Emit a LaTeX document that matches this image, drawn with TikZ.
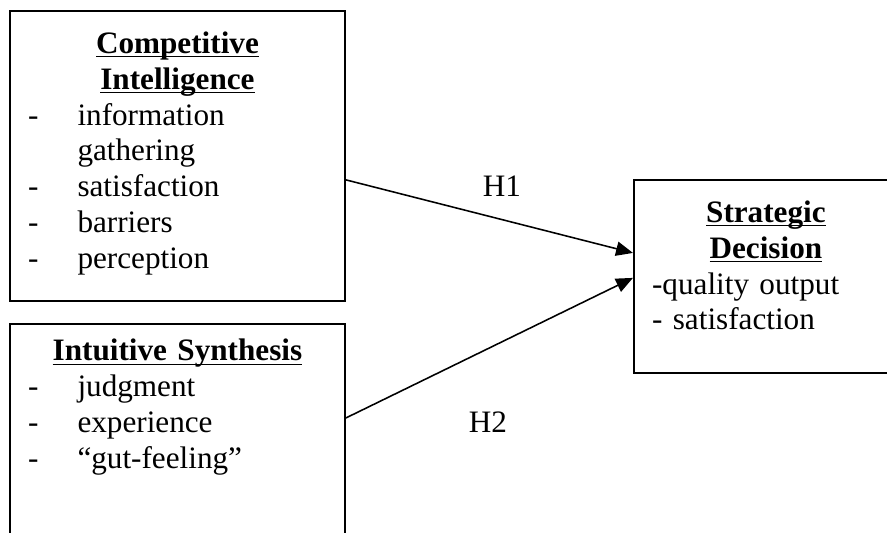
\documentclass[tikz,border=0pt]{standalone}
\usepackage{fontspec}
\setmainfont{Liberation Serif}
\usepackage{tikz}
\usetikzlibrary{arrows.meta}
\newcommand{\vhead}[1]{\textbf{\underbar{#1}}}

\begin{document}
\begin{tikzpicture}[
  varbox/.style={draw, line width=0.7pt, anchor=north west, inner xsep=7pt, inner ysep=8pt,
    font=\fontsize{12}{13.8}\selectfont},
  hyp/.style={line width=0.6pt, -{Triangle[length=6.5pt,width=5.5pt]}},
  hlabel/.style={font=\fontsize{12}{13.8}\selectfont}
]
  \useasboundingbox (0,0) rectangle (11.994,7.207);
  \clip (0,0) rectangle (11.994,7.207);
  % the three boxes
  \node[varbox, text width=114.9pt, text depth=87.3pt] (ci) at (0.122,7.072) {%
    {\centering\vhead{Competitive}\\\vhead{Intelligence}\par}
    \begin{tabular}[t]{@{}p{19pt}@{}l@{}}
      - & information\\
        & gathering\\
      - & satisfaction\\
      - & barriers\\
      - & perception
    \end{tabular}};
  \node[varbox, inner ysep=5.8pt, text width=114.9pt, text depth=71.3pt] (is) at (0.122,2.840) {%
    {\centering\vhead{Intuitive Synthesis}\par}
    \begin{tabular}[t]{@{}p{19pt}@{}l@{}}
      - & judgment\\
      - & experience\\
      - & “gut-feeling”
    \end{tabular}};
  \node[varbox, text width=87.6pt, text depth=49.9pt] (sd) at (8.559,4.787) {%
    {\centering\vhead{Strategic}\\\vhead{Decision}\par}
    -quality output\par
    - satisfaction};
  % hypotheses
  \draw[hyp] ([yshift=-9.2pt]ci.east) -- ([yshift=9pt]sd.west);
  \draw[hyp] ([yshift=9.4pt]is.east) -- ([yshift=-0.6pt]sd.west);
  \node[hlabel] (h1) at (6.788,4.692) {H1};
  \node[hlabel] (h2) at (6.599,1.494) {H2};
\end{tikzpicture}
\end{document}
